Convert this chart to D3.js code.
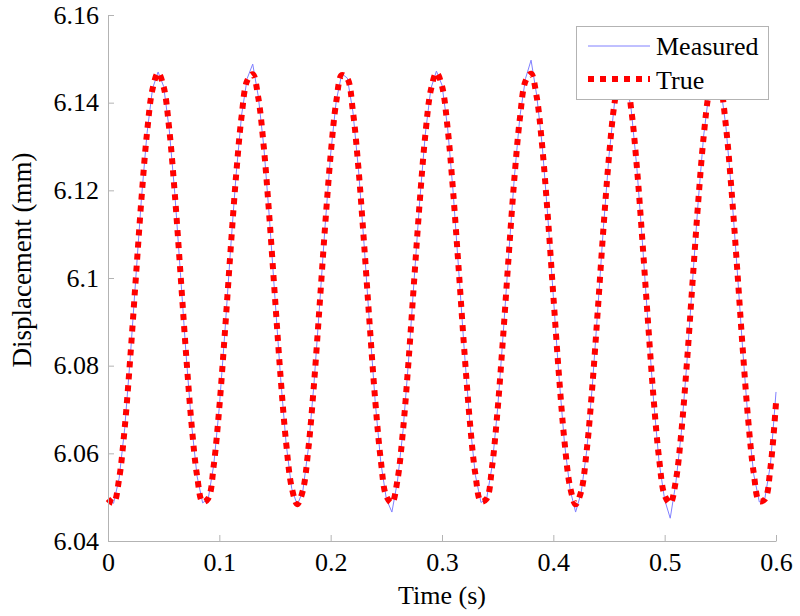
<!DOCTYPE html>
<html>
<head>
<meta charset="utf-8">
<script src="https://cdn.jsdelivr.net/npm/d3@7"></script>
<style>
  html, body { margin: 0; padding: 0; background: #fff; }
  svg { display: block; }
  svg text { font-family: "Liberation Serif", "Times New Roman", Times, "DejaVu Serif", serif !important; fill: #000; }
</style>
</head>
<body>
<svg id="chart" width="800" height="616"></svg>
<script>
// ---- data ----
const timeStep = 0.005; // s, sample spacing
const trueValues = [
  6.0496, 6.0487, 6.0542, 6.0658, 6.0818, 6.1000, 6.1179, 6.1330, 6.1431, 6.1468,
  6.1436, 6.1340, 6.1192, 6.1014, 6.0831, 6.0668, 6.0549, 6.0489, 6.0497, 6.0573,
  6.0705, 6.0876, 6.1060, 6.1232, 6.1369, 6.1450, 6.1465, 6.1411, 6.1297, 6.1137,
  6.0955, 6.0775, 6.0624, 6.0522, 6.0484, 6.0515, 6.0611, 6.0757, 6.0935, 6.1118,
  6.1281, 6.1402, 6.1463, 6.1455, 6.1380, 6.1249, 6.1079, 6.0895, 6.0722, 6.0585,
  6.0502, 6.0487, 6.0539, 6.0653, 6.0812, 6.0995, 6.1174, 6.1326, 6.1429, 6.1468,
  6.1438, 6.1343, 6.1197, 6.1020, 6.0837, 6.0673, 6.0552, 6.0490, 6.0496, 6.0570,
  6.0701, 6.0870, 6.1054, 6.1227, 6.1365, 6.1449, 6.1466, 6.1414, 6.1301, 6.1142,
  6.0960, 6.0780, 6.0628, 6.0524, 6.0484, 6.0513, 6.0607, 6.0752, 6.0929, 6.1113,
  6.1277, 6.1399, 6.1462, 6.1456, 6.1384, 6.1254, 6.1085, 6.0901, 6.0727, 6.0588,
  6.0504, 6.0486, 6.0537, 6.0649, 6.0807, 6.0989, 6.1169, 6.1322, 6.1426, 6.1468,
  6.1440, 6.1347, 6.1202, 6.1026, 6.0842, 6.0677, 6.0555, 6.0491, 6.0495, 6.0567,
  6.0715
];
const measuredValues = [
  6.0494, 6.0486, 6.0543, 6.0657, 6.0819, 6.1001, 6.1180, 6.1329, 6.1432, 6.1470,
  6.1437, 6.1339, 6.1193, 6.1013, 6.0830, 6.0667, 6.0548, 6.0487, 6.0496, 6.0574,
  6.0706, 6.0877, 6.1062, 6.1234, 6.1372, 6.1455, 6.1488, 6.1414, 6.1298, 6.1136,
  6.0953, 6.0773, 6.0622, 6.0520, 6.0482, 6.0514, 6.0612, 6.0758, 6.0936, 6.1119,
  6.1283, 6.1404, 6.1466, 6.1456, 6.1379, 6.1247, 6.1077, 6.0892, 6.0718, 6.0580,
  6.0496, 6.0466, 6.0536, 6.0652, 6.0813, 6.0997, 6.1176, 6.1328, 6.1432, 6.1472,
  6.1440, 6.1344, 6.1196, 6.1018, 6.0835, 6.0671, 6.0550, 6.0488, 6.0495, 6.0571,
  6.0703, 6.0873, 6.1057, 6.1230, 6.1369, 6.1455, 6.1497, 6.1418, 6.1303, 6.1141,
  6.0958, 6.0777, 6.0624, 6.0518, 6.0466, 6.0510, 6.0606, 6.0753, 6.0931, 6.1115,
  6.1279, 6.1401, 6.1464, 6.1457, 6.1383, 6.1252, 6.1082, 6.0898, 6.0722, 6.0580,
  6.0494, 6.0452, 6.0532, 6.0648, 6.0808, 6.0991, 6.1171, 6.1324, 6.1428, 6.1470,
  6.1441, 6.1346, 6.1200, 6.1024, 6.0840, 6.0674, 6.0552, 6.0489, 6.0497, 6.0574,
  6.0740
];
const xTicks = [0, 0.1, 0.2, 0.3, 0.4, 0.5, 0.6];
const xTickLabels = ["0", "0.1", "0.2", "0.3", "0.4", "0.5", "0.6"];
const yTicks = [6.04, 6.06, 6.08, 6.10, 6.12, 6.14, 6.16];
const yTickLabels = ["6.04", "6.06", "6.08", "6.1", "6.12", "6.14", "6.16"];
const seriesNames = ["Measured", "True"];
const xLabel = "Time (s)";
const yLabel = "Displacement (mm)";

// ---- layout ----
const svg = d3.select("#chart");
const plot = { left: 108, right: 776, top: 15, bottom: 541 };
const axisColor = "#b3b3b3";
const measuredColor = "#8080ff";
const trueColor = "#ff0000";
const fontSize = 26;
const serif = '"Liberation Serif", "Times New Roman", Times, "DejaVu Serif", serif';

const x = d3.scaleLinear().domain([0, 0.6]).range([plot.left, plot.right]);
const y = d3.scaleLinear().domain([6.04, 6.16]).range([plot.bottom, plot.top]);

const measured = measuredValues.map((v, i) => ({ t: i * timeStep, v }));
const truth = trueValues.map((v, i) => ({ t: i * timeStep, v }));

const lineMeasured = d3.line().x(d => x(d.t)).y(d => y(d.v)).curve(d3.curveLinear);
const lineTrue = d3.line().x(d => x(d.t)).y(d => y(d.v)).curve(d3.curveCatmullRom.alpha(0.5));

svg.append("path").datum(measured)
  .attr("d", lineMeasured)
  .attr("fill", "none").attr("stroke", measuredColor).attr("stroke-width", 1);

svg.append("path").datum(truth)
  .attr("d", lineTrue)
  .attr("fill", "none").attr("stroke", trueColor).attr("stroke-width", 6)
  .attr("stroke-dasharray", "6,6");

// axes
const xAxis = d3.axisBottom(x).tickValues(xTicks)
  .tickFormat((d, i) => xTickLabels[i]).tickSizeInner(-6).tickSizeOuter(0).tickPadding(12);
const yAxis = d3.axisLeft(y).tickValues(yTicks)
  .tickFormat((d, i) => yTickLabels[i]).tickSizeInner(-6).tickSizeOuter(0).tickPadding(9);

const gx = svg.append("g").attr("transform", `translate(0,${plot.bottom})`).call(xAxis);
const gy = svg.append("g").attr("transform", `translate(${plot.left},0)`).call(yAxis);
[gx, gy].forEach(g => {
  g.attr("font-family", serif).attr("font-size", fontSize);
  g.select(".domain").attr("stroke", axisColor);
  g.selectAll(".tick line").attr("stroke", axisColor);
  g.selectAll(".tick text").style("font-family", serif)
    .attr("font-size", fontSize).attr("fill", "#000");
});

// axis titles
svg.append("text")
  .attr("x", (plot.left + plot.right) / 2).attr("y", 604)
  .attr("text-anchor", "middle").attr("font-size", fontSize).style("font-family", serif)
  .text(xLabel);
svg.append("text")
  .attr("transform", "translate(31,260) rotate(-90)")
  .attr("text-anchor", "middle").attr("font-size", 27).style("font-family", serif)
  .text(yLabel);

// legend
const lg = svg.append("g");
lg.append("rect")
  .attr("x", 576.5).attr("y", 26.5).attr("width", 192).attr("height", 73)
  .attr("fill", "#fff").attr("stroke", axisColor).attr("stroke-width", 1);
lg.append("line")
  .attr("x1", 588).attr("x2", 650).attr("y1", 46).attr("y2", 46)
  .attr("stroke", measuredColor).attr("stroke-width", 1);
lg.append("line")
  .attr("x1", 588).attr("x2", 650).attr("y1", 79).attr("y2", 79)
  .attr("stroke", trueColor).attr("stroke-width", 6).attr("stroke-dasharray", "6,6");
lg.append("text").attr("x", 656).attr("y", 55).attr("font-size", fontSize).style("font-family", serif).text(seriesNames[0]);
lg.append("text").attr("x", 656).attr("y", 89).attr("font-size", fontSize).style("font-family", serif).text(seriesNames[1]);
</script>
</body>
</html>
